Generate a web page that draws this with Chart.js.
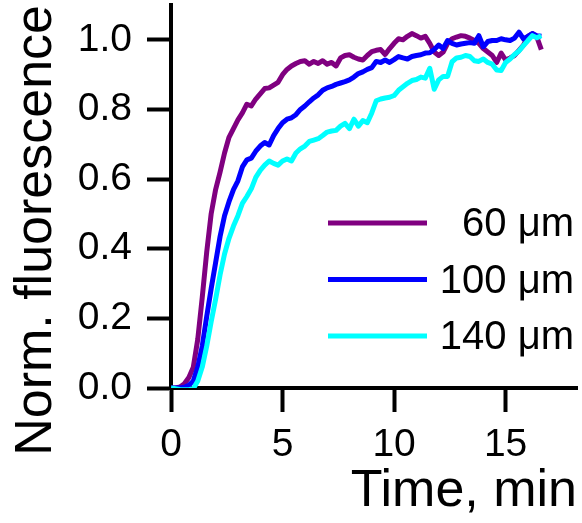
<!DOCTYPE html>
<html>
<head>
<meta charset="utf-8">
<style>
html,body{margin:0;padding:0;background:#fff;}
#wrap{width:582px;height:523px;}
</style>
<script src="https://cdn.jsdelivr.net/npm/chart.js@4.4.1/dist/chart.umd.min.js"></script>
</head>
<body>
<div id="wrap"><canvas id="c" width="582" height="523"></canvas></div>
<script>
// ---- data (time in min, normalized fluorescence) ----
const time = [0,0.2,0.4,0.6,0.8,1.0,1.2,1.4,1.6,1.8,
  2.0,2.2,2.4,2.6,2.8,3.0,3.2,3.4,3.6,3.8,
  4.0,4.2,4.4,4.6,4.8,5.0,5.2,5.4,5.6,5.8,
  6.0,6.2,6.4,6.6,6.8,7.0,7.2,7.4,7.6,7.8,
  8.0,8.2,8.4,8.6,8.8,9.0,9.2,9.4,9.6,9.8,
  10.0,10.2,10.4,10.6,10.8,11.0,11.2,11.4,11.6,11.8,
  12.0,12.2,12.4,12.6,12.8,13.0,13.2,13.4,13.6,13.8,
  14.0,14.2,14.4,14.6,14.8,15.0,15.2,15.4,15.6,15.8,
  16.0,16.2,16.4,16.6];

const fluo60 = [0,0,0.003,0.012,0.03,0.06,0.14,0.26,0.39,0.50,
  0.57,0.62,0.675,0.72,0.745,0.77,0.79,0.815,0.81,0.83,
  0.845,0.86,0.862,0.87,0.878,0.90,0.915,0.925,0.932,0.938,
  0.94,0.93,0.938,0.932,0.94,0.93,0.935,0.925,0.948,0.955,
  0.957,0.95,0.945,0.942,0.955,0.966,0.97,0.972,0.958,0.975,
  0.99,1.003,1.0,1.01,1.018,1.012,1.005,1.01,0.99,0.965,
  0.955,0.965,0.99,1.003,1.008,1.012,1.01,1.005,0.998,0.99,
  0.975,0.965,0.955,0.935,0.962,0.942,0.948,0.955,0.97,0.985,
  1.01,1.018,1.008,0.972];

const fluo100 = [0,0,0,0.002,0.008,0.02,0.06,0.12,0.205,0.285,
  0.36,0.435,0.495,0.535,0.57,0.595,0.635,0.655,0.66,0.68,
  0.695,0.705,0.698,0.725,0.745,0.762,0.772,0.776,0.785,0.80,
  0.81,0.822,0.833,0.842,0.855,0.862,0.866,0.872,0.876,0.88,
  0.885,0.893,0.903,0.908,0.915,0.92,0.938,0.935,0.942,0.935,
  0.943,0.952,0.948,0.945,0.952,0.955,0.957,0.962,0.963,0.972,
  0.985,0.975,0.998,0.99,0.985,0.988,0.99,0.992,0.99,1.012,
  0.98,0.995,0.998,0.998,1.003,1.0,0.998,1.005,1.022,1.003,
  1.01,1.018,1.012,1.01];

const fluo140 = [0,-0.002,-0.004,-0.005,-0.005,-0.002,0.02,0.06,0.12,0.19,
  0.255,0.325,0.385,0.43,0.465,0.495,0.53,0.55,0.572,0.605,
  0.625,0.64,0.652,0.645,0.64,0.652,0.658,0.652,0.675,0.687,
  0.695,0.708,0.712,0.716,0.725,0.735,0.738,0.74,0.752,0.76,
  0.745,0.772,0.752,0.768,0.762,0.79,0.825,0.83,0.833,0.835,
  0.84,0.855,0.865,0.875,0.883,0.886,0.893,0.89,0.918,0.858,
  0.885,0.895,0.895,0.937,0.948,0.95,0.955,0.952,0.94,0.938,
  0.945,0.935,0.93,0.913,0.912,0.935,0.945,0.958,0.968,0.983,
  0.998,1.012,1.006,1.012];

const seriesLabels = ['60 \u03bcm', '100 \u03bcm', '140 \u03bcm'];
const seriesColors = ['#800080', '#0000ff', '#00ffff'];
const xTicks = [0, 5, 10, 15];
const yTicks = [0.0, 0.2, 0.4, 0.6, 0.8, 1.0];

const FONT = "'Liberation Sans', Arial, Helvetica, sans-serif";

function pts(arr){ return time.map((t,i)=>({x:t, y:arr[i]})); }

const legendPlugin = {
  id: 'innerLegend',
  afterDatasetsDraw(chart){
    const ctx = chart.ctx;
    const ds = chart.data.datasets;
    ctx.save();
    ctx.font = '40px ' + FONT;
    ctx.textAlign = 'right';
    ctx.textBaseline = 'middle';
    const y0 = 223, dy = 56.5;
    ds.forEach((d,i)=>{
      const y = y0 + i*dy;
      ctx.strokeStyle = d.borderColor;
      ctx.lineWidth = 5;
      ctx.beginPath();
      ctx.moveTo(328, y);
      ctx.lineTo(427, y);
      ctx.stroke();
      ctx.fillStyle = '#000';
      ctx.fillText(d.label, 574, y + 2);
    });
    ctx.restore();
  }
};

Chart.defaults.font.family = FONT;
Chart.defaults.color = '#000';

function noPad(s){ s.paddingTop = 0; s.paddingBottom = 0; s.paddingLeft = 0; s.paddingRight = 0; }

new Chart(document.getElementById('c'), {
  type: 'line',
  data: {
    datasets: [
      {label: seriesLabels[0], data: pts(fluo60), borderColor: seriesColors[0], order: 3},
      {label: seriesLabels[1], data: pts(fluo100), borderColor: seriesColors[1], order: 2},
      {label: seriesLabels[2], data: pts(fluo140), borderColor: seriesColors[2], order: 1}
    ].map(d => Object.assign(d, {borderWidth: 5, pointRadius: 0, tension: 0, fill: false, borderJoinStyle: 'round'}))
  },
  options: {
    responsive: false,
    animation: false,
    devicePixelRatio: 1,
    layout: {padding: {left: 0, right: 5, top: 5, bottom: 0}},
    plugins: {legend: {display: false}, tooltip: {enabled: false}},
    scales: {
      x: {
        type: 'linear',
        min: 0, max: 18.2,
        afterBuildTicks: s => { s.ticks = xTicks.map(v => ({value: v})); },
        afterFit: s => { s.height = 135; noPad(s); },
        ticks: {font: {size: 39}, padding: 10, maxRotation: 0, autoSkip: false,
          callback: v => String(v)},
        grid: {drawOnChartArea: false, drawTicks: true, tickLength: 24, tickWidth: 4, tickColor: '#000'},
        border: {display: true, color: '#000', width: 4},
        title: {display: true, text: 'Time, min', align: 'end', font: {size: 52, lineHeight: 1.2}, padding: {top: 0, bottom: 0}}
      },
      y: {
        type: 'linear',
        min: 0, max: 1.1,
        afterBuildTicks: s => { s.ticks = yTicks.map(v => ({value: v})); },
        afterFit: s => { s.width = 171; noPad(s); },
        ticks: {font: {size: 39}, padding: 15, autoSkip: false,
          callback: v => Number(v).toFixed(1)},
        grid: {drawOnChartArea: false, drawTicks: true, tickLength: 24, tickWidth: 4, tickColor: '#000'},
        border: {display: true, color: '#000', width: 4},
        title: {display: true, text: 'Norm. fluorescence', align: 'end', font: {size: 52, lineHeight: 1.2}, padding: {top: 5, bottom: 0}}
      }
    }
  },
  plugins: [legendPlugin]
});
</script>
</body>
</html>
